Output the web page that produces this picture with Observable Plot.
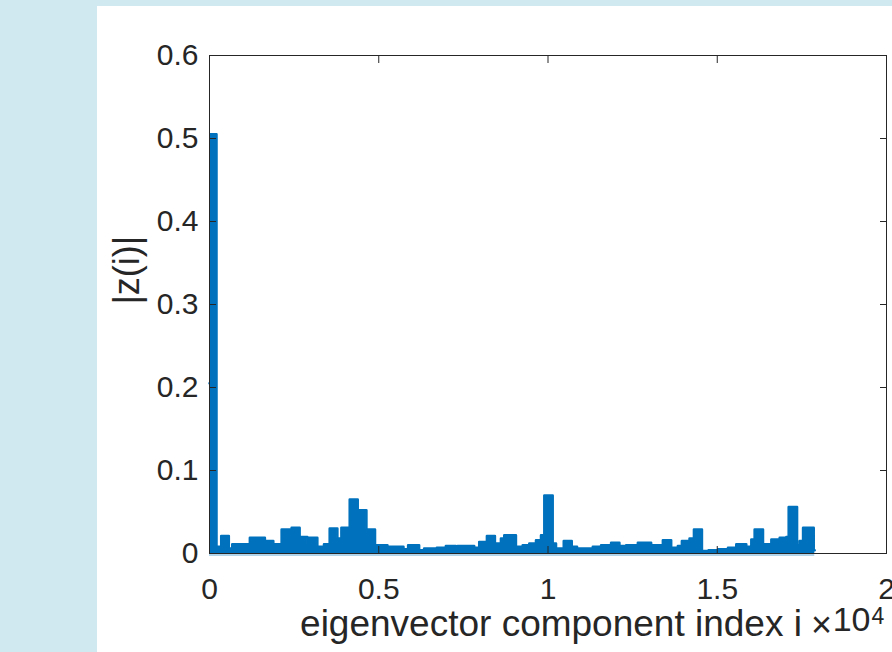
<!DOCTYPE html>
<html>
<head>
<meta charset="utf-8">
<script src="https://cdn.jsdelivr.net/npm/d3@7"></script>
<script src="https://cdn.jsdelivr.net/npm/@observablehq/plot@0.6"></script>
<style>
  html, body { margin: 0; padding: 0; }
  body { width: 892px; height: 652px; overflow: hidden; background: #d0e8f0; position: relative; font-family: "Liberation Sans", Arial, Helvetica, sans-serif; }
  #panel { position: absolute; left: 97px; top: 6px; width: 795px; height: 646px; background: #ffffff; }
  #panel svg { display: block; }
</style>
</head>
<body>
<div id="panel"></div>
<script>
// Block start index (component i) and |z(i)| value of each step
const blockStart = [0, 30, 207, 346, 571, 672, 1192, 1636, 1885, 2130, 2376, 2426, 2663, 2890, 2938, 3186, 3382, 3550, 3778, 3896, 4142, 4379, 4636, 4890, 4941, 5257, 5731, 5867, 6193, 6340, 6716, 6982, 7278, 7328, 7820, 7968, 8195, 8432, 8609, 8708, 9053, 9252, 9447, 9645, 9793, 9891, 10139, 10237, 10465, 10702, 10858, 11323, 11568, 11864, 12110, 12308, 12654, 13047, 13393, 13639, 13836, 13955, 14181, 14311, 14548, 14743, 15021, 15317, 15562, 15858, 16006, 16104, 16352, 16598, 16844, 17041, 17110, 17358, 17435, 17535, 17850];
const blockValue = [0.205, 0.505, 0.008, 0.021, 0.006, 0.011, 0.019, 0.015, 0.011, 0.029, 0.022, 0.031, 0.020, 0.010, 0.019, 0.008, 0.011, 0.030, 0.018, 0.031, 0.065, 0.052, 0.029, 0.004, 0.010, 0.008, 0.005, 0.010, 0.004, 0.006, 0.007, 0.009, 0.007, 0.009, 0.007, 0.014, 0.021, 0.012, 0.018, 0.022, 0.008, 0.010, 0.012, 0.016, 0.022, 0.070, 0.012, 0.006, 0.015, 0.008, 0.006, 0.008, 0.010, 0.013, 0.009, 0.010, 0.013, 0.010, 0.016, 0.007, 0.009, 0.015, 0.018, 0.029, 0.003, 0.004, 0.005, 0.007, 0.011, 0.008, 0.017, 0.029, 0.011, 0.017, 0.019, 0.020, 0.056, 0.010, 0.015, 0.031, 0.004];
const nComponents = 17880;

const xTicks = [0, 5000, 10000, 15000, 20000];
const xTickLabels = ["0", "0.5", "1", "1.5", "2"];
const yTicks = [0, 0.1, 0.2, 0.3, 0.4, 0.5, 0.6];
const yTickLabels = ["0", "0.1", "0.2", "0.3", "0.4", "0.5", "0.6"];

const xLabel = "eigenvector component index i";
const yLabel = "|z(i)|";
const expTimes = "\u00d7";
const expBase = "10";
const expPower = "4";

const data = blockStart.map((s, k) => ({i: s, z: blockValue[k]}));
data.push({i: nComponents, z: blockValue[blockValue.length - 1]});

const blue = "#0072BD";
const ink = "#262626";

const chart = Plot.plot({
  width: 795,
  height: 646,
  marginLeft: 112,
  marginTop: 49,
  marginRight: 6,
  marginBottom: 99,
  style: {fontFamily: '"Liberation Sans", Arial, Helvetica, sans-serif', color: ink, background: "transparent", overflow: "visible"},
  x: {domain: [0, 20000]},
  y: {domain: [0, 0.6]},
  marks: [
    Plot.ruleY([0], {x1: 0, x2: nComponents, stroke: blue, strokeOpacity: 0.3, strokeWidth: 5}),
    Plot.areaY(data, {x: "i", y: "z", curve: "step-after", fill: blue}),
    Plot.lineY(data, {x: "i", y: "z", curve: "step-after", stroke: blue, strokeWidth: 2.5}),
    // tick labels
    Plot.axisX(xTicks, {anchor: "bottom", tickSize: 0, tickPadding: 24, fontSize: 30, label: null,
      tickFormat: d => xTickLabels[xTicks.indexOf(d)]}),
    Plot.axisY(yTicks, {anchor: "left", tickSize: 0, tickPadding: 11, fontSize: 30, label: null,
      tickFormat: d => yTickLabels[yTicks.indexOf(d)]}),
    // inward ticks on all four sides
    Plot.axisX(xTicks, {anchor: "bottom", tickSize: -7, tickFormat: () => "", label: null, stroke: ink}),
    Plot.axisX(xTicks, {anchor: "top", tickSize: -7, tickFormat: () => "", label: null, stroke: ink}),
    Plot.axisY(yTicks, {anchor: "left", tickSize: -7, tickFormat: () => "", label: null, stroke: ink}),
    Plot.axisY(yTicks, {anchor: "right", tickSize: -7, tickFormat: () => "", label: null, stroke: ink}),
    Plot.frame({stroke: ink, strokeWidth: 1}),
    // axis titles
    Plot.text([xLabel], {frameAnchor: "bottom", dx: 3, dy: 82, fontSize: 37, fill: ink}),
    Plot.text([yLabel], {frameAnchor: "left", rotate: -90, dx: -82, fontSize: 36, fill: ink}),
    Plot.text([expTimes], {frameAnchor: "bottom-right", textAnchor: "middle", dx: -65, dy: 83, fontSize: 36, fill: ink}),
    Plot.text([expBase], {frameAnchor: "bottom-right", textAnchor: "end", dx: -16, dy: 77, fontSize: 34, fill: ink}),
    Plot.text([expPower], {frameAnchor: "bottom-right", textAnchor: "start", dx: -15, dy: 70, fontSize: 23, fill: ink})
  ]
});
document.getElementById("panel").appendChild(chart);
</script>
</body>
</html>
